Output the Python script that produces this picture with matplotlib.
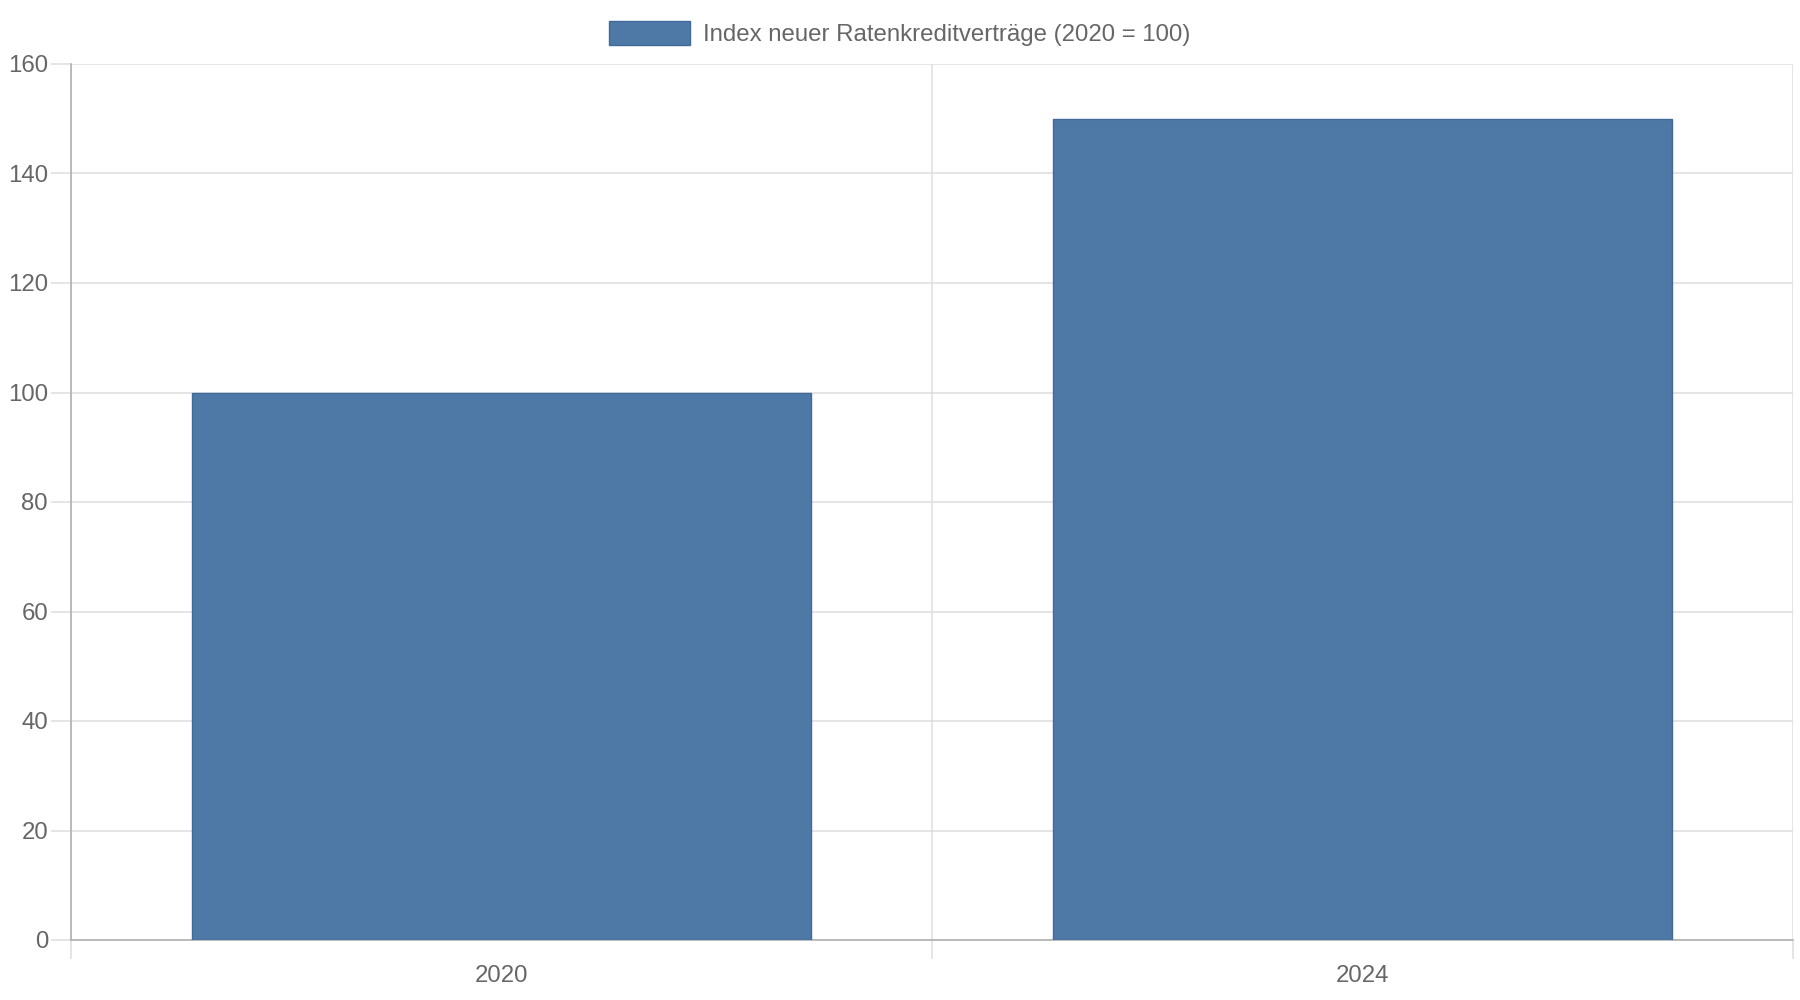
import matplotlib
matplotlib.use("Agg")
import matplotlib.pyplot as plt
from matplotlib.ticker import FixedLocator

years = ["2020", "2024"]
index_values = [100, 150]
series_label = "Index neuer Ratenkreditverträge (2020 = 100)"
y_ticks = [0, 20, 40, 60, 80, 100, 120, 140, 160]

plt.rcParams['font.family'] = ['Liberation Sans', 'DejaVu Sans']

text_col = '#666666'
grid_col = '#e0e0e0'
axis_col = '#b0b0b0'
bar_col = '#4e79a7'

fig = plt.figure(figsize=(18, 10), dpi=100)
ax = fig.add_axes([71 / 1800, 1 - 940 / 1000, (1793 - 71) / 1800, (940 - 64) / 1000])

x = list(range(len(years)))
ax.bar(x, index_values, width=0.72, color=bar_col, edgecolor='#41699a', linewidth=1,
       label=series_label, zorder=3)

ax.set_xlim(-0.5, len(years) - 0.5)
ax.set_ylim(0, 160)
ax.set_yticks(y_ticks)
ax.set_xticks(x)
ax.set_xticklabels(years)
# category borders get the vertical grid lines
ax.xaxis.set_minor_locator(FixedLocator([i - 0.5 for i in range(len(years) + 1)]))

ax.grid(axis='y', which='major', color=grid_col, linewidth=1.2, zorder=0)
ax.grid(axis='x', which='minor', color=grid_col, linewidth=1.2, zorder=0)
ax.grid(axis='x', which='major', visible=False)

ax.tick_params(axis='y', which='major', length=14.5, width=1.2, color=grid_col,
               labelsize=17.3, labelcolor=text_col, pad=2)
ax.tick_params(axis='x', which='major', length=0, labelsize=17.3, labelcolor=text_col, pad=18)
ax.tick_params(axis='x', which='minor', length=14, width=1.2, color=grid_col)

for s in ['top', 'right']:
    ax.spines[s].set_visible(False)
for s in ['left', 'bottom']:
    ax.spines[s].set_color(axis_col)
    ax.spines[s].set_linewidth(1.2)

fig.legend(loc='upper center', bbox_to_anchor=(0.5, 0.989), frameon=False,
           fontsize=17.3, labelcolor=text_col, handlelength=3.35, handleheight=1.2,
           handletextpad=0.55, borderaxespad=0)

fig.savefig("out.png", dpi=100, facecolor='white')
